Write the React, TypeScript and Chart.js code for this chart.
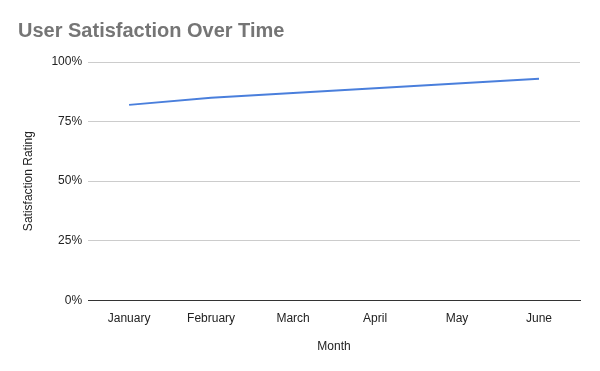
import React, { useEffect, useRef } from "react";
import { Chart, registerables } from "chart.js";

Chart.register(...registerables);

const months = ["January", "February", "March", "April", "May", "June"];
const satisfaction = [0.82, 0.85, 0.87, 0.89, 0.91, 0.93];
const yTicks = [0, 0.25, 0.5, 0.75, 1];

export default function App() {
  const ref = useRef<HTMLCanvasElement>(null);
  useEffect(() => {
    const chart = new Chart(ref.current!, {
      type: "line",
      data: {
        labels: months,
        datasets: [
          {
            label: "Satisfaction Rating",
            data: satisfaction,
            borderColor: "#4a7fdc",
            borderWidth: 2,
            pointRadius: 0,
            tension: 0,
          },
        ],
      },
      options: {
        responsive: false,
        animation: false,
        layout: { padding: { left: 18, right: 20, top: 0, bottom: 17 } },
        font: { family: "'Liberation Sans', Arial, sans-serif" } as any,
        plugins: {
          legend: { display: false },
          tooltip: { enabled: false },
          title: {
            display: true,
            text: "User Satisfaction Over Time",
            align: "start",
            color: "#757575",
            font: { family: "'Liberation Sans', Arial, sans-serif", size: 20, weight: "bold" },
            padding: { top: 19, bottom: 19 },
          },
        },
        scales: {
          x: {
            offset: true,
            grid: { display: false, drawTicks: false },
            border: { display: true, color: "#333333", width: 1 },
            ticks: {
              color: "#222222",
              padding: 11,
              font: { family: "'Liberation Sans', Arial, sans-serif", size: 12 },
            },
            title: {
              display: true,
              text: "Month",
              color: "#222222",
              padding: { top: 3, bottom: 0 },
              font: { family: "'Liberation Sans', Arial, sans-serif", size: 12 },
            },
          },
          y: {
            min: 0,
            max: 1,
            afterBuildTicks: (axis: any) => {
              axis.ticks = yTicks.map((v) => ({ value: v }));
            },
            grid: {
              color: (ctx: any) => (ctx.tick && ctx.tick.value === 0 ? "#333333" : "#cccccc"),
              drawTicks: false,
            },
            border: { display: false },
            ticks: {
              color: "#222222",
              padding: 6,
              font: { family: "'Liberation Sans', Arial, sans-serif", size: 12 },
              callback: (v: any) => Math.round(Number(v) * 100) + "%",
            },
            title: {
              display: true,
              text: "Satisfaction Rating",
              color: "#222222",
              padding: { top: 3, bottom: 10 },
              font: { family: "'Liberation Sans', Arial, sans-serif", size: 12 },
            },
          },
        },
      },
    });
    return () => chart.destroy();
  }, []);
  return (
    <div style={{ position: "fixed", left: 0, top: 0, width: 600, height: 371, background: "#fff" }}>
      <canvas ref={ref} width={600} height={371} style={{ display: "block" }} />
    </div>
  );
}
